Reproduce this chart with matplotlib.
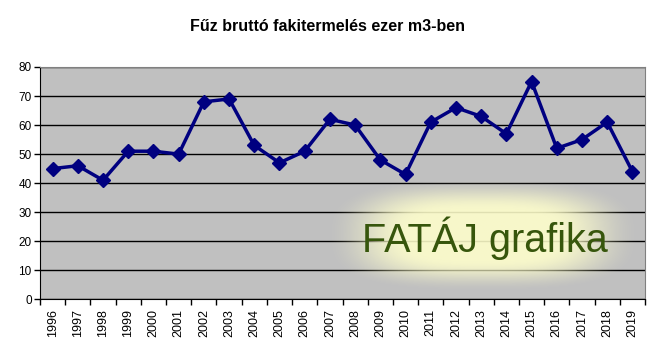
import numpy as np
import matplotlib
matplotlib.use("Agg")
import matplotlib.pyplot as plt
from matplotlib import font_manager

years = [str(y) for y in range(1996, 2020)]
values = [45, 46, 41, 51, 51, 50, 68, 69, 53, 47, 51, 62, 60, 48, 43, 61, 66, 63, 57, 75, 52, 55, 61, 44]
title = "Fűz bruttó fakitermelés ezer m3-ben"
watermark = "FATÁJ grafika"

plt.rcParams['font.family'] = ['Liberation Sans', 'DejaVu Sans']

names = {f.name for f in font_manager.fontManager.ttflist}
if 'Liberation Sans Narrow' in names:
    wm_family, wm_size = ['Liberation Sans Narrow', 'Liberation Sans'], 33
else:
    wm_family, wm_size = ['Liberation Sans', 'DejaVu Sans'], 28.5

fig = plt.figure(figsize=(6.57, 3.53), dpi=100)
ax = fig.add_axes([40/657, (353-299.3)/353, 605/657, 232.3/353])
ax.set_facecolor('#c0c0c0')

x = np.arange(len(years))
ax.set_yticks(range(0, 81, 10))
ax.tick_params(axis='y', labelsize=8.5, length=4, width=1, direction='out', pad=2)
ax.yaxis.grid(True, color='black', linewidth=1)
ax.set_axisbelow(True)

# glow behind watermark (rounded-rectangle soft gradient)
ny, nx = 200, 400
gy, gx = np.mgrid[-1:1:ny*1j, -1:1:nx*1j]
r = (np.abs(gx)**3 + np.abs(gy)**3) ** (1/3)
t = np.clip((1 - r) / 0.55, 0, 1)
alpha = t * t * (3 - 2 * t)
img = np.zeros((ny, nx, 4))
img[..., 0] = 1.0
img[..., 1] = 1.0
img[..., 2] = 0.80
img[..., 3] = alpha * 0.88
ax.imshow(img, extent=(0.47, 0.995, 0.03, 0.52), transform=ax.transAxes,
          aspect='auto', zorder=1.5, interpolation='bilinear')
ax.set_xlim(-0.5, len(years) - 0.5)
ax.set_ylim(0, 80)

ax.text(0.735, (299.3-251.7)/232.3, watermark, transform=ax.transAxes, ha='center', va='baseline',
        fontsize=wm_size, family=wm_family, color='#37560c', zorder=2.5)

ax.plot(x, values, color='#000080', linewidth=2.5, marker='D', markersize=7, zorder=3)

ax.set_xticks(np.arange(-0.5, len(years), 1), minor=False)
ax.set_xticklabels([])
ax.set_xticks(x, minor=True)
ax.set_xticklabels(years, minor=True, rotation=90, fontsize=9)
ax.tick_params(axis='x', which='major', length=4, width=1, direction='out')
ax.tick_params(axis='x', which='minor', length=0, pad=7)

for s in ['top', 'right']:
    ax.spines[s].set_color('#808080')
for s in ['left', 'bottom']:
    ax.spines[s].set_color('black')

fig.text(328/657, 1 - 31/353, title, ha='center', va='baseline', fontsize=11.5, fontweight='bold')

fig.savefig('out.png', dpi=100, facecolor='white')
